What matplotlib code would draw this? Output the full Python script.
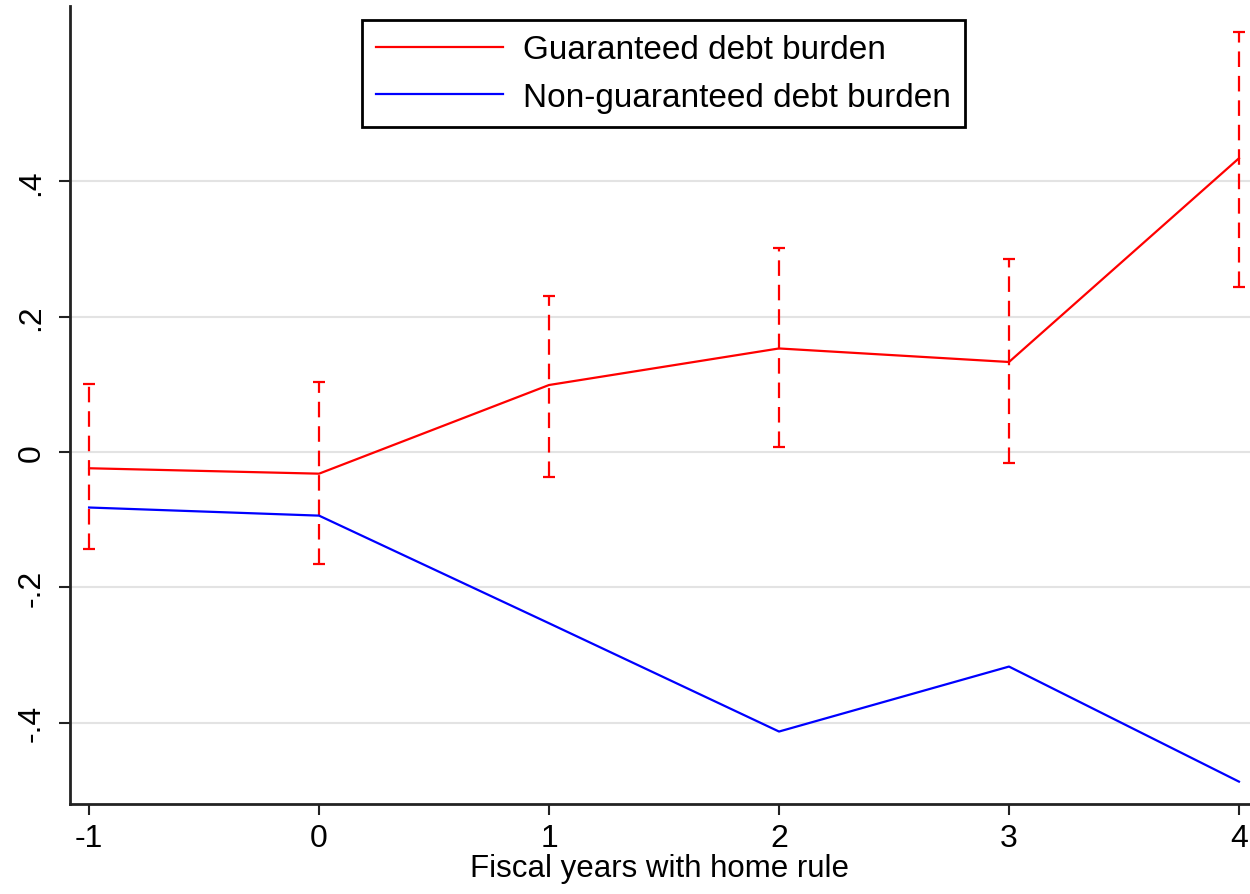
import numpy as np
import matplotlib
matplotlib.use("Agg")
import matplotlib.pyplot as plt

plt.rcParams['font.family'] = ['Liberation Sans', 'DejaVu Sans']

years = [-1, 0, 1, 2, 3, 4]
guaranteed = [-0.024, -0.032, 0.099, 0.153, 0.133, 0.434]
guaranteed_hi = [0.100, 0.104, 0.231, 0.301, 0.285, 0.621]
guaranteed_lo = [-0.144, -0.165, -0.037, 0.008, -0.016, 0.244]
nonguaranteed = [-0.082, -0.094, -0.253, -0.413, -0.317, -0.487]

yticks = [-0.4, -0.2, 0, 0.2, 0.4]
ytick_labels = ["-.4", "-.2", "0", ".2", ".4"]

fs = 24

fig = plt.figure(figsize=(12.5, 8.95), dpi=100)
ax = fig.add_axes([0.056, 0.1006, 0.944, 0.8916])

g = np.array(guaranteed)
err = [g - np.array(guaranteed_lo), np.array(guaranteed_hi) - g]
eb = ax.errorbar(years, guaranteed, yerr=err, fmt='none', ecolor='#ff0000',
                 elinewidth=1.6, capsize=4, capthick=1.6, zorder=3)
eb.lines[2][0].set_linestyle((0, (7, 4)))

ax.plot(years, guaranteed, color='#ff0000', lw=1.6, label="Guaranteed debt burden", zorder=4)
ax.plot(years, nonguaranteed, color='#0000ff', lw=1.6, label="Non-guaranteed debt burden", zorder=4)

ax.set_xlim(-1.083, 4.048)
ax.set_ylim(-0.52, 0.659)
ax.set_xticks(years)
ax.set_xticklabels([str(v) for v in years], fontsize=23)
ax.set_yticks(yticks)
ax.set_yticklabels(ytick_labels, fontsize=23, rotation=90, va='center')
ax.tick_params(axis='both', length=8, width=1.5, color='#222222')
ax.tick_params(axis='x', pad=5.5)
ax.tick_params(axis='y', pad=9)
ax.grid(axis='y', color='#e3e3e3', lw=1.5, zorder=0)
ax.set_axisbelow(True)

for side in ['top', 'right']:
    ax.spines[side].set_visible(False)
for side in ['left', 'bottom']:
    ax.spines[side].set_linewidth(2)
    ax.spines[side].set_color('#222222')

ax.set_xlabel("Fiscal years with home rule", fontsize=22.5, labelpad=0)

leg = ax.legend(loc='upper center', bbox_to_anchor=(0.503, 0.983), borderaxespad=0,
                fontsize=fs, fancybox=False, edgecolor='black', framealpha=1,
                handlelength=3.8, handletextpad=0.6, labelspacing=0.49, borderpad=0.44)
leg.get_frame().set_linewidth(2)

plt.savefig("out.png", dpi=100)
